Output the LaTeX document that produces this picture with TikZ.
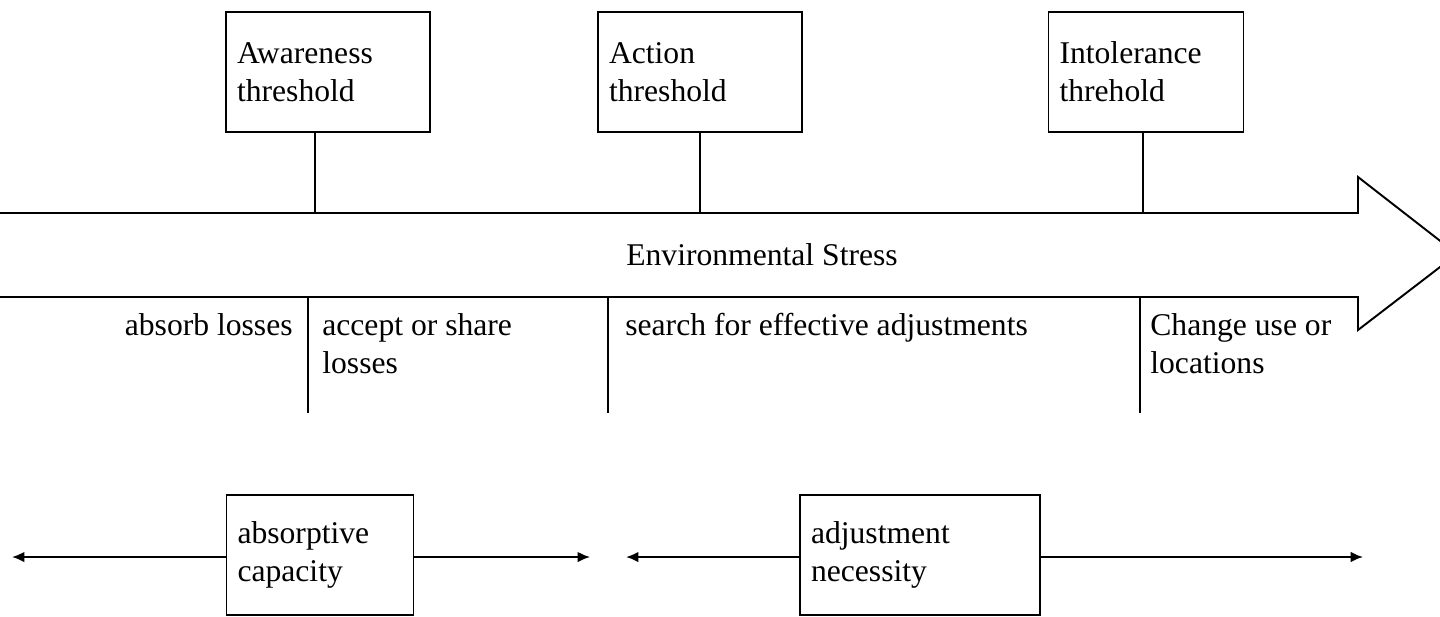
\documentclass[tikz,border=0pt]{standalone}
\usepackage{fontspec}
\setmainfont{Liberation Serif}
\usetikzlibrary{arrows,arrows.meta}

\tikzset{
  thresh/.style={draw,line width=1.1pt,inner xsep=0.22cm,inner ysep=0pt,minimum height=2.4cm,align=left},
  tick/.style={line width=1.1pt},
  span/.style={line width=1.1pt,-{Latex[length=7pt,width=6pt]}},
  lbl/.style={inner sep=0pt,align=left}
}

\begin{document}
\begin{tikzpicture}[x=0.02cm,y=-0.02cm,font=\fontsize{18}{21.6}\selectfont]
    \clip (0,0) rectangle (1440,616);
    \draw[tick,line join=miter] (0,213) -- (1358,213) -- (1358,177) -- (1457,254) -- (1358,330) -- (1358,297) -- (0,297);
    \node (stress) at (762,255) {Environmental Stress};
    \node[thresh,text width=3.64cm] (aware) at (328,72) {Awareness\\threshold};
    \node[thresh,text width=3.64cm] (action) at (700,72) {Action\\threshold};
    \node[thresh,text width=3.46cm] (intol) at (1146,72) {Intolerance\\threhold};
    \coordinate (t1) at (315,213);
    \coordinate (t2) at (700,213);
    \coordinate (t3) at (1143,213);
    \draw[tick] (aware.south -| t1) -- (t1);
    \draw[tick] (action.south -| t2) -- (t2);
    \draw[tick] (intol.south -| t3) -- (t3);
    \coordinate (b1) at (308,297);
    \coordinate (b2) at (608,297);
    \coordinate (b3) at (1140,297);
    \draw[tick] (b1) -- ++(0,116);
    \draw[tick] (b2) -- ++(0,116);
    \draw[tick] (b3) -- ++(0,116);
    \node[lbl,anchor=base east] (absorb) at (293,335) {absorb losses};
    \node[lbl,anchor=north west] (accept) at (322,313) {accept or share\\losses};
    \node[lbl,anchor=base west] (search) at (625,335) {search for effective adjustments};
    \node[lbl,anchor=north west] (change) at (1150,313) {Change use or\\locations};
    \node[thresh,text width=3.3cm] (absorp) at (320,555) {absorptive\\capacity};
    \node[thresh,text width=4.36cm,inner xsep=0.22cm] (adjust) at (920,555) {adjustment\\necessity};
    \coordinate (l1) at (12,557);
    \coordinate (r1) at (590,557);
    \coordinate (l2) at (626,557);
    \coordinate (r2) at (1363,557);
    \draw[span] (absorp.west |- l1) -- (l1);
    \draw[span] (absorp.east |- r1) -- (r1);
    \draw[span] (adjust.west |- l2) -- (l2);
    \draw[span] (adjust.east |- r2) -- (r2);
  \end{tikzpicture}
\end{document}
